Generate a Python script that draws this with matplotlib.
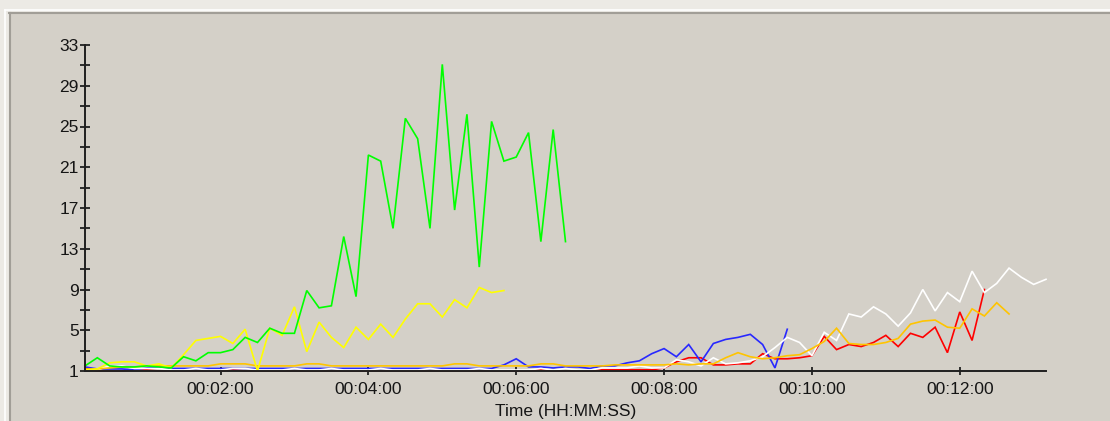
import matplotlib
matplotlib.use("Agg")
import matplotlib.pyplot as plt
from matplotlib.patches import Rectangle
from matplotlib.lines import Line2D
from matplotlib.ticker import FixedLocator, FuncFormatter

# Sample times (seconds), one sample every 10 s
times = list(range(10, 800, 10))

green = [1.5, 2.3, 1.5, 1.4, 1.4, 1.5, 1.4, 1.3, 2.4, 2.0,
         2.8, 2.8, 3.1, 4.3, 3.8, 5.2, 4.7, 4.7, 8.9, 7.2,
         7.4, 14.2, 8.3, 22.2, 21.6, 15.0, 25.8, 23.8, 15.0, 31.1,
         16.8, 26.2, 11.2, 25.5, 21.6, 22.0, 24.4, 13.7, 24.7, 13.7]

yellow = [1.1, 1.2, 1.8, 1.9, 1.9, 1.5, 1.7, 1.3, 2.6, 4.0,
          4.2, 4.4, 3.7, 5.1, 1.0, 5.2, 4.5, 7.3, 2.9, 5.8,
          4.3, 3.3, 5.3, 4.1, 5.6, 4.3, 6.1, 7.6, 7.6, 6.3,
          8.0, 7.2, 9.2, 8.7, 8.9]

orange = [1.2, 1.2, 1.3, 1.4, 1.4, 1.5, 1.5, 1.5, 1.5, 1.5,
          1.5, 1.7, 1.7, 1.7, 1.5, 1.5, 1.5, 1.5, 1.7, 1.7,
          1.5, 1.5, 1.5, 1.5, 1.5, 1.5, 1.5, 1.5, 1.5, 1.5,
          1.7, 1.7, 1.5, 1.5, 1.5, 1.5, 1.5, 1.7, 1.7, 1.5,
          1.5, 1.5, 1.5, 1.6, 1.6, 1.6, 1.6, 1.6, 1.7, 1.6,
          1.7, 1.7, 2.3, 2.8, 2.4, 2.2, 2.3, 2.5, 2.6, 3.2,
          3.9, 5.2, 3.7, 3.6, 3.6, 3.8, 4.2, 5.6, 5.9, 6.0,
          5.3, 5.2, 7.1, 6.4, 7.7, 6.6]

blue = [1.4, 1.2, 1.2, 1.2, 1.1, 1.3, 1.4, 1.25, 1.25, 1.25,
        1.25, 1.25, 1.25, 1.25, 1.25, 1.25, 1.25, 1.25, 1.25, 1.25,
        1.25, 1.25, 1.25, 1.25, 1.25, 1.25, 1.25, 1.25, 1.25, 1.25,
        1.25, 1.25, 1.25, 1.25, 1.6, 2.2, 1.4, 1.4, 1.3, 1.4,
        1.4, 1.25, 1.5, 1.5, 1.8, 2.0, 2.7, 3.2, 2.4, 3.6,
        1.9, 3.7, 4.1, 4.3, 4.6, 3.6, 1.3, 5.1]

red = [1.3, 1.0, 1.0, 1.0, 1.12, 1.12, 1.0, 1.0, 1.0, 1.0,
       1.0, 1.0, 1.12, 1.0, 1.0, 1.0, 1.0, 1.0, 1.0, 1.0,
       1.0, 1.0, 1.0, 1.0, 1.0, 1.0, 1.0, 1.0, 1.0, 1.0,
       1.0, 1.0, 1.0, 1.0, 1.0, 1.0, 1.0, 1.12, 1.0, 1.0,
       1.0, 1.0, 1.12, 1.12, 1.12, 1.12, 1.12, 1.3, 1.9, 2.3,
       2.3, 1.6, 1.6, 1.7, 1.7, 2.7, 2.2, 2.2, 2.3, 2.5,
       4.4, 3.1, 3.6, 3.4, 3.8, 4.5, 3.4, 4.7, 4.3, 5.3,
       2.8, 6.8, 4.0, 9.0]

white = [1.1, 1.1, 1.5, 1.5, 1.25, 1.25, 1.25, 1.1, 1.1, 1.25,
         1.1, 1.1, 1.25, 1.25, 1.1, 1.1, 1.1, 1.25, 1.1, 1.1,
         1.25, 1.1, 1.1, 1.1, 1.25, 1.1, 1.1, 1.1, 1.25, 1.1,
         1.1, 1.1, 1.25, 1.1, 1.1, 1.1, 1.1, 1.25, 1.1, 1.25,
         1.1, 1.1, 1.3, 1.3, 1.3, 1.5, 1.3, 1.3, 2.1, 1.9,
         1.5, 2.3, 1.7, 1.8, 2.0, 2.4, 3.3, 4.3, 3.8, 2.5,
         4.8, 4.0, 6.6, 6.3, 7.3, 6.6, 5.4, 6.7, 9.0, 6.9,
         8.7, 7.8, 10.8, 8.7, 9.6, 11.1, 10.2, 9.5, 10.0]

y_major = [1, 5, 9, 13, 17, 21, 25, 29, 33]
y_minor = [3, 7, 11, 15, 19, 23, 27, 31]
x_major = [120, 240, 360, 480, 600, 720]

W, H = 1110, 421
PANEL = "#D4D0C8"
TEXT = "#151515"
plt.rcParams["font.family"] = ["Liberation Sans", "DejaVu Sans"]

fig = plt.figure(figsize=(W / 100, H / 100), dpi=100, facecolor="#ECEAE5")

# Sunken panel with a classic 3D border
fig.add_artist(Rectangle((9 / W, 0), 1 - 9 / W, (H - 12) / H,
                         transform=fig.transFigure, facecolor=PANEL,
                         edgecolor="none", zorder=0))
fig.add_artist(Line2D([5 / W, 1], [(H - 9.5) / H] * 2, transform=fig.transFigure,
                      color="white", lw=1.2, zorder=1))
fig.add_artist(Line2D([5 / W] * 2, [0, (H - 9.5) / H], transform=fig.transFigure,
                      color="white", lw=1.2, zorder=1))
fig.add_artist(Line2D([9 / W, 1], [(H - 12.5) / H] * 2, transform=fig.transFigure,
                      color="#A19E97", lw=1.5, zorder=1))
fig.add_artist(Line2D([9.5 / W] * 2, [0, (H - 12.5) / H], transform=fig.transFigure,
                      color="#A19E97", lw=1.5, zorder=1))

ax = fig.add_axes([85 / W, (H - 371) / H, (1046 - 85) / W, (371 - 45) / H])
ax.set_facecolor("none")

lw = 1.2
series = [
    (red, "#FF0000"),
    (blue, "#2828FF"),
    (white, "#FFFFFF"),
    (orange, "#FFC400"),
    (yellow, "#FFFF00"),
    (green, "#00FF00"),
]
for vals, col in series:
    ax.plot(times[:len(vals)], vals, color=col, lw=lw, solid_joinstyle="miter",
            clip_on=False)

ax.set_xlim(times[0], times[-1])
ax.set_ylim(1, 33)

for side in ("top", "right"):
    ax.spines[side].set_visible(False)
for side in ("left", "bottom"):
    ax.spines[side].set_color("#202020")
    ax.spines[side].set_linewidth(1.4)
    ax.spines[side].set_zorder(3)

ax.yaxis.set_major_locator(FixedLocator(y_major))
ax.yaxis.set_minor_locator(FixedLocator(y_minor))
ax.xaxis.set_major_locator(FixedLocator(x_major))


def hms(sec, _pos=None):
    sec = int(round(sec))
    return f"{sec // 3600:02d}:{(sec % 3600) // 60:02d}:{sec % 60:02d}"


ax.xaxis.set_major_formatter(FuncFormatter(hms))

ax.tick_params(axis="y", which="both", direction="inout", length=7, width=1.3,
               color="#202020", labelsize=12.5, labelcolor=TEXT, pad=1)
ax.tick_params(axis="x", which="major", direction="inout", length=6, width=1.3,
               color="#202020", labelsize=12.5, labelcolor=TEXT, pad=5)

ax.set_xlabel("Time (HH:MM:SS)", fontsize=12.5, color=TEXT, labelpad=5)

fig.savefig("out.png", dpi=100, facecolor=fig.get_facecolor())
